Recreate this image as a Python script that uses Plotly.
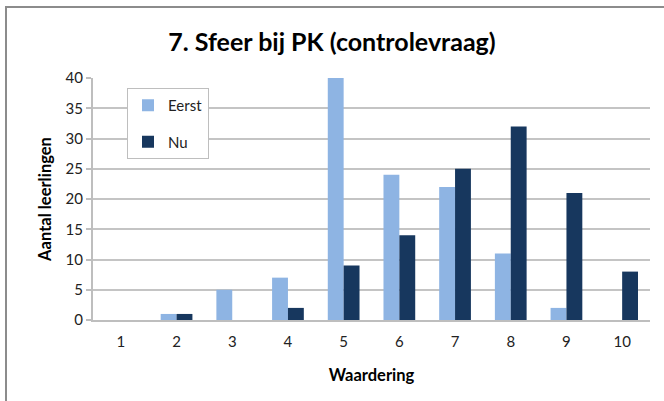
import plotly.graph_objects as go

categories = ['1', '2', '3', '4', '5', '6', '7', '8', '9', '10']
eerst = [0, 1, 5, 7, 40, 24, 22, 11, 2, 0]
nu = [0, 1, 0, 2, 9, 14, 25, 32, 21, 8]

font_family = "Lato, 'Open Sans', sans-serif"

fig = go.Figure()

fig.add_trace(
    go.Bar(x=categories, y=eerst, name='Eerst',
           marker=dict(color='#8EB4E3', line=dict(width=0)),
           legendgroup='a')
)
fig.add_trace(
    go.Bar(x=categories, y=nu, name='Nu',
           marker=dict(color='#17375E', line=dict(width=0)),
           legendgroup='b')
)

# chart area border (Excel style)
fig.add_shape(type='rect', xref='paper', yref='paper',
              x0=(6 - 93) / 557, x1=1.2, y0=-0.5, y1=(320 - 7) / 242,
              line=dict(color='#8C8C8C', width=2), layer='below')

fig.update_layout(
    title=dict(
        text='<b>7. Sfeer bij PK (controlevraag)</b>',
        x=0.5, xanchor='center', y=0.895, yanchor='middle',
        font=dict(family=font_family, size=25, color='#000000'),
    ),
    font=dict(family=font_family, size=15, color='#222222'),
    barmode='group',
    bargap=0.43,
    bargroupgap=0,
    plot_bgcolor='white',
    paper_bgcolor='white',
    xaxis=dict(
        title=dict(text='<b>Waardering</b>', font=dict(size=16.5, color='#000000'), standoff=20),
        showline=True, linecolor='#BEBEBE', linewidth=2,
        ticks='', showgrid=False, ticklabelstandoff=7,
    ),
    yaxis=dict(
        title=dict(text='<b>Aantal leerlingen</b>', font=dict(size=16.5, color='#000000'), standoff=10),
        range=[0, 40], dtick=5,
        showline=True, linecolor='#BEBEBE', linewidth=2,
        ticks='outside', ticklen=5, tickcolor='#BEBEBE', tickwidth=2,
        gridcolor='#C4C4C4', gridwidth=2,
        zeroline=False,
    ),
    legend=dict(
        x=(127 - 93) / 557, y=(320 - 88) / 242, xanchor='left', yanchor='top',
        bordercolor='#BEBEBE', borderwidth=1, bgcolor='white',
        font=dict(size=15, color='#222222'),
        tracegroupgap=14,
        traceorder='grouped',
        itemwidth=30,
    ),
    margin=dict(l=93, r=14, t=78, b=81),
    height=401,
    width=664,
)

fig.write_html("out.html", config=dict(displayModeBar=False),
               post_script="document.body.style.margin='0';")
